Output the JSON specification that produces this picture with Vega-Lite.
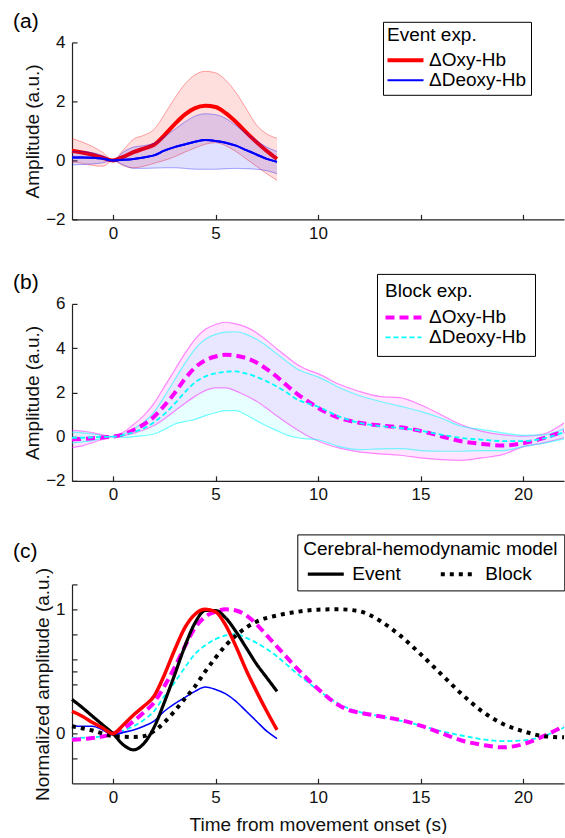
{
  "$schema": "https://vega.github.io/schema/vega-lite/v6.json",
  "padding": {"left": 13, "top": 10.4, "right": 0, "bottom": 0},
  "spacing": 30.5,
  "resolve": {"scale": {"color": "independent", "strokeWidth": "independent", "strokeDash": "independent"}, "legend": {"color": "independent", "strokeWidth": "independent", "strokeDash": "independent"}},
  "config": {
    "font": "Liberation Sans",
    "view": {"stroke": null},
    "axis": {"grid": false, "domainColor": "#222", "domainWidth": 1.2, "tickColor": "#222", "tickWidth": 1.2, "tickSize": -5, "labelFontSize": 17, "labelColor": "#111", "labelFont": "Liberation Sans", "titleFont": "Liberation Sans", "titleFontSize": 19, "titleFontWeight": "normal", "titleColor": "#111", "labelFlush": false},
    "axisX": {"labelPadding": 11, "titlePadding": 10},
    "axisY": {"labelPadding": 12, "titlePadding": 3},
    "legend": {"strokeColor": "#000", "fillColor": "#fff", "titleFontWeight": "normal", "titleFontSize": 19, "labelFontSize": 19, "titleColor": "#000", "labelColor": "#000", "titleFont": "Liberation Sans", "labelFont": "Liberation Sans", "titleLimit": 400, "labelLimit": 300, "symbolSize": 144, "symbolStrokeWidth": 2},
    "title": {"font": "Liberation Sans", "fontSize": 21, "fontWeight": "normal", "anchor": "start", "frame": "group", "color": "#000"}
  },
  "datasets": {
    "ev": [
      {"t":-2,"s":"ΔOxy-Hb","m":0.33,"lo":-0.05,"hi":0.75},{"t":-1.5,"s":"ΔOxy-Hb","m":0.27,"lo":-0.1,"hi":0.62},{"t":-1,"s":"ΔOxy-Hb","m":0.19,"lo":-0.17,"hi":0.47},{"t":-0.5,"s":"ΔOxy-Hb","m":0.09,"lo":-0.2,"hi":0.27},{"t":0,"s":"ΔOxy-Hb","m":0,"lo":0,"hi":0},{"t":0.5,"s":"ΔOxy-Hb","m":0.12,"lo":-0.18,"hi":0.35},{"t":1,"s":"ΔOxy-Hb","m":0.28,"lo":-0.25,"hi":0.72},{"t":1.5,"s":"ΔOxy-Hb","m":0.4,"lo":-0.2,"hi":0.85},{"t":2,"s":"ΔOxy-Hb","m":0.53,"lo":-0.1,"hi":1.05},{"t":2.5,"s":"ΔOxy-Hb","m":0.85,"lo":0,"hi":1.55},{"t":3,"s":"ΔOxy-Hb","m":1.22,"lo":0.12,"hi":2.1},{"t":3.5,"s":"ΔOxy-Hb","m":1.55,"lo":0.28,"hi":2.58},{"t":4,"s":"ΔOxy-Hb","m":1.77,"lo":0.42,"hi":2.9},{"t":4.5,"s":"ΔOxy-Hb","m":1.85,"lo":0.55,"hi":3.02},{"t":5,"s":"ΔOxy-Hb","m":1.81,"lo":0.6,"hi":2.97},{"t":5.5,"s":"ΔOxy-Hb","m":1.6,"lo":0.5,"hi":2.72},{"t":6,"s":"ΔOxy-Hb","m":1.3,"lo":0.3,"hi":2.3},{"t":6.5,"s":"ΔOxy-Hb","m":0.95,"lo":0.05,"hi":1.75},{"t":7,"s":"ΔOxy-Hb","m":0.62,"lo":-0.2,"hi":1.2},{"t":7.5,"s":"ΔOxy-Hb","m":0.32,"lo":-0.45,"hi":0.9},{"t":8,"s":"ΔOxy-Hb","m":0.05,"lo":-0.68,"hi":0.75},
      {"t":-2,"s":"ΔDeoxy-Hb","m":0.1,"lo":-0.15,"hi":0.3},{"t":-1.5,"s":"ΔDeoxy-Hb","m":0.1,"lo":-0.14,"hi":0.3},{"t":-1,"s":"ΔDeoxy-Hb","m":0.09,"lo":-0.12,"hi":0.26},{"t":-0.5,"s":"ΔDeoxy-Hb","m":0.06,"lo":-0.08,"hi":0.16},{"t":0,"s":"ΔDeoxy-Hb","m":0,"lo":0,"hi":0},{"t":0.5,"s":"ΔDeoxy-Hb","m":0.02,"lo":-0.15,"hi":0.28},{"t":1,"s":"ΔDeoxy-Hb","m":0.05,"lo":-0.27,"hi":0.45},{"t":1.5,"s":"ΔDeoxy-Hb","m":0.1,"lo":-0.27,"hi":0.5},{"t":2,"s":"ΔDeoxy-Hb","m":0.17,"lo":-0.26,"hi":0.58},{"t":2.5,"s":"ΔDeoxy-Hb","m":0.33,"lo":-0.25,"hi":0.8},{"t":3,"s":"ΔDeoxy-Hb","m":0.45,"lo":-0.25,"hi":1.05},{"t":3.5,"s":"ΔDeoxy-Hb","m":0.54,"lo":-0.27,"hi":1.3},{"t":4,"s":"ΔDeoxy-Hb","m":0.63,"lo":-0.3,"hi":1.5},{"t":4.5,"s":"ΔDeoxy-Hb","m":0.69,"lo":-0.3,"hi":1.58},{"t":5,"s":"ΔDeoxy-Hb","m":0.66,"lo":-0.3,"hi":1.55},{"t":5.5,"s":"ΔDeoxy-Hb","m":0.6,"lo":-0.28,"hi":1.42},{"t":6,"s":"ΔDeoxy-Hb","m":0.5,"lo":-0.27,"hi":1.18},{"t":6.5,"s":"ΔDeoxy-Hb","m":0.35,"lo":-0.28,"hi":0.92},{"t":7,"s":"ΔDeoxy-Hb","m":0.2,"lo":-0.3,"hi":0.67},{"t":7.5,"s":"ΔDeoxy-Hb","m":0.05,"lo":-0.35,"hi":0.45},{"t":8,"s":"ΔDeoxy-Hb","m":-0.05,"lo":-0.45,"hi":0.3}
    ],
    "bl": [
      {"t":-2,"s":"ΔOxy-Hb","m":-0.12,"lo":-0.5,"hi":0.28},{"t":-1.5,"s":"ΔOxy-Hb","m":-0.1,"lo":-0.42,"hi":0.25},{"t":-1,"s":"ΔOxy-Hb","m":-0.07,"lo":-0.27,"hi":0.18},{"t":-0.5,"s":"ΔOxy-Hb","m":-0.04,"lo":-0.12,"hi":0.08},{"t":0,"s":"ΔOxy-Hb","m":0,"lo":0,"hi":0},{"t":0.5,"s":"ΔOxy-Hb","m":0.1,"lo":0.05,"hi":0.2},{"t":1,"s":"ΔOxy-Hb","m":0.3,"lo":0.15,"hi":0.55},{"t":1.5,"s":"ΔOxy-Hb","m":0.55,"lo":0.3,"hi":0.95},{"t":2,"s":"ΔOxy-Hb","m":0.9,"lo":0.5,"hi":1.5},{"t":2.5,"s":"ΔOxy-Hb","m":1.4,"lo":0.8,"hi":2.25},{"t":3,"s":"ΔOxy-Hb","m":1.96,"lo":1.15,"hi":3.0},{"t":3.5,"s":"ΔOxy-Hb","m":2.6,"lo":1.5,"hi":3.75},{"t":4,"s":"ΔOxy-Hb","m":3.12,"lo":1.82,"hi":4.4},{"t":4.5,"s":"ΔOxy-Hb","m":3.45,"lo":2.08,"hi":4.85},{"t":5,"s":"ΔOxy-Hb","m":3.62,"lo":2.2,"hi":5.07},{"t":5.5,"s":"ΔOxy-Hb","m":3.7,"lo":2.2,"hi":5.17},{"t":6,"s":"ΔOxy-Hb","m":3.66,"lo":2.06,"hi":5.1},{"t":6.5,"s":"ΔOxy-Hb","m":3.55,"lo":1.85,"hi":4.95},{"t":7,"s":"ΔOxy-Hb","m":3.35,"lo":1.6,"hi":4.7},{"t":7.5,"s":"ΔOxy-Hb","m":3.05,"lo":1.28,"hi":4.35},{"t":8,"s":"ΔOxy-Hb","m":2.7,"lo":0.93,"hi":3.96},{"t":8.5,"s":"ΔOxy-Hb","m":2.3,"lo":0.6,"hi":3.6},{"t":9,"s":"ΔOxy-Hb","m":1.92,"lo":0.3,"hi":3.25},{"t":9.5,"s":"ΔOxy-Hb","m":1.6,"lo":0.03,"hi":3.02},{"t":10,"s":"ΔOxy-Hb","m":1.3,"lo":-0.2,"hi":2.85},{"t":11,"s":"ΔOxy-Hb","m":0.86,"lo":-0.51,"hi":2.38},{"t":12,"s":"ΔOxy-Hb","m":0.63,"lo":-0.69,"hi":2.05},{"t":13,"s":"ΔOxy-Hb","m":0.51,"lo":-0.78,"hi":1.82},{"t":14,"s":"ΔOxy-Hb","m":0.42,"lo":-0.84,"hi":1.76},{"t":15,"s":"ΔOxy-Hb","m":0.26,"lo":-0.96,"hi":1.44},{"t":16,"s":"ΔOxy-Hb","m":0.02,"lo":-1.04,"hi":0.99},{"t":17,"s":"ΔOxy-Hb","m":-0.21,"lo":-1.07,"hi":0.54},{"t":18,"s":"ΔOxy-Hb","m":-0.33,"lo":-0.96,"hi":0.24},{"t":19,"s":"ΔOxy-Hb","m":-0.4,"lo":-0.81,"hi":0.09},{"t":20,"s":"ΔOxy-Hb","m":-0.3,"lo":-0.46,"hi":0.02},{"t":21,"s":"ΔOxy-Hb","m":-0.07,"lo":-0.28,"hi":0.12},{"t":22,"s":"ΔOxy-Hb","m":0.24,"lo":-0.05,"hi":0.62},
      {"t":-2,"s":"ΔDeoxy-Hb","m":-0.05,"lo":-0.28,"hi":0.2},{"t":-1.5,"s":"ΔDeoxy-Hb","m":-0.05,"lo":-0.24,"hi":0.17},{"t":-1,"s":"ΔDeoxy-Hb","m":-0.03,"lo":-0.18,"hi":0.12},{"t":-0.5,"s":"ΔDeoxy-Hb","m":-0.01,"lo":-0.08,"hi":0.05},{"t":0,"s":"ΔDeoxy-Hb","m":0,"lo":0,"hi":0},{"t":0.5,"s":"ΔDeoxy-Hb","m":0.07,"lo":-0.03,"hi":0.12},{"t":1,"s":"ΔDeoxy-Hb","m":0.2,"lo":0,"hi":0.35},{"t":1.5,"s":"ΔDeoxy-Hb","m":0.38,"lo":0.05,"hi":0.65},{"t":2,"s":"ΔDeoxy-Hb","m":0.65,"lo":0.12,"hi":1.1},{"t":2.5,"s":"ΔDeoxy-Hb","m":1.02,"lo":0.32,"hi":1.8},{"t":3,"s":"ΔDeoxy-Hb","m":1.48,"lo":0.56,"hi":2.55},{"t":3.5,"s":"ΔDeoxy-Hb","m":2.0,"lo":0.68,"hi":3.3},{"t":4,"s":"ΔDeoxy-Hb","m":2.45,"lo":0.78,"hi":3.96},{"t":4.5,"s":"ΔDeoxy-Hb","m":2.72,"lo":0.95,"hi":4.4},{"t":5,"s":"ΔDeoxy-Hb","m":2.86,"lo":1.08,"hi":4.62},{"t":5.5,"s":"ΔDeoxy-Hb","m":2.93,"lo":1.18,"hi":4.72},{"t":6,"s":"ΔDeoxy-Hb","m":2.95,"lo":1.18,"hi":4.74},{"t":6.5,"s":"ΔDeoxy-Hb","m":2.85,"lo":0.98,"hi":4.62},{"t":7,"s":"ΔDeoxy-Hb","m":2.7,"lo":0.72,"hi":4.4},{"t":7.5,"s":"ΔDeoxy-Hb","m":2.5,"lo":0.48,"hi":4.1},{"t":8,"s":"ΔDeoxy-Hb","m":2.26,"lo":0.27,"hi":3.74},{"t":8.5,"s":"ΔDeoxy-Hb","m":1.98,"lo":0.07,"hi":3.38},{"t":9,"s":"ΔDeoxy-Hb","m":1.67,"lo":-0.05,"hi":3.05},{"t":9.5,"s":"ΔDeoxy-Hb","m":1.5,"lo":-0.1,"hi":2.86},{"t":10,"s":"ΔDeoxy-Hb","m":1.35,"lo":-0.14,"hi":2.7},{"t":11,"s":"ΔDeoxy-Hb","m":0.92,"lo":-0.44,"hi":2.23},{"t":12,"s":"ΔDeoxy-Hb","m":0.63,"lo":-0.59,"hi":1.86},{"t":13,"s":"ΔDeoxy-Hb","m":0.48,"lo":-0.55,"hi":1.6},{"t":14,"s":"ΔDeoxy-Hb","m":0.39,"lo":-0.54,"hi":1.38},{"t":15,"s":"ΔDeoxy-Hb","m":0.27,"lo":-0.63,"hi":1.14},{"t":16,"s":"ΔDeoxy-Hb","m":0.09,"lo":-0.66,"hi":0.84},{"t":17,"s":"ΔDeoxy-Hb","m":-0.06,"lo":-0.66,"hi":0.47},{"t":18,"s":"ΔDeoxy-Hb","m":-0.14,"lo":-0.63,"hi":0.32},{"t":19,"s":"ΔDeoxy-Hb","m":-0.2,"lo":-0.63,"hi":0.17},{"t":20,"s":"ΔDeoxy-Hb","m":-0.2,"lo":-0.45,"hi":0.06},{"t":21,"s":"ΔDeoxy-Hb","m":-0.08,"lo":-0.3,"hi":0.08},{"t":22,"s":"ΔDeoxy-Hb","m":0.2,"lo":-0.1,"hi":0.35}
    ],
    "nm": [
      {"t":-2,"k":"Event","v":0.275},{"t":-1.5,"k":"Event","v":0.21},{"t":-1,"k":"Event","v":0.14},{"t":-0.5,"k":"Event","v":0.07},{"t":0,"k":"Event","v":0},{"t":0.5,"k":"Event","v":-0.09},{"t":1,"k":"Event","v":-0.13},{"t":1.5,"k":"Event","v":-0.08},{"t":2,"k":"Event","v":0.05},{"t":2.5,"k":"Event","v":0.25},{"t":3,"k":"Event","v":0.47},{"t":3.5,"k":"Event","v":0.7},{"t":4,"k":"Event","v":0.89},{"t":4.5,"k":"Event","v":0.99},{"t":5,"k":"Event","v":0.99},{"t":5.5,"k":"Event","v":0.93},{"t":6,"k":"Event","v":0.82},{"t":6.5,"k":"Event","v":0.69},{"t":7,"k":"Event","v":0.56},{"t":7.5,"k":"Event","v":0.45},{"t":8,"k":"Event","v":0.34},
      {"t":-2,"k":"Block","v":0.06},{"t":-1,"k":"Block","v":0.025},{"t":0,"k":"Block","v":-0.02},{"t":0.5,"k":"Block","v":-0.025},{"t":1,"k":"Block","v":-0.027},{"t":1.5,"k":"Block","v":-0.02},{"t":2,"k":"Block","v":0.02},{"t":2.5,"k":"Block","v":0.09},{"t":3,"k":"Block","v":0.18},{"t":3.5,"k":"Block","v":0.28},{"t":4,"k":"Block","v":0.38},{"t":4.5,"k":"Block","v":0.5},{"t":5,"k":"Block","v":0.61},{"t":5.5,"k":"Block","v":0.71},{"t":6,"k":"Block","v":0.79},{"t":7,"k":"Block","v":0.9},{"t":8,"k":"Block","v":0.95},{"t":9,"k":"Block","v":0.98},{"t":10,"k":"Block","v":0.997},{"t":11,"k":"Block","v":1.0},{"t":12,"k":"Block","v":0.985},{"t":12.5,"k":"Block","v":0.955},{"t":13,"k":"Block","v":0.91},{"t":14,"k":"Block","v":0.79},{"t":15,"k":"Block","v":0.64},{"t":16,"k":"Block","v":0.48},{"t":17,"k":"Block","v":0.32},{"t":18,"k":"Block","v":0.18},{"t":19,"k":"Block","v":0.08},{"t":20,"k":"Block","v":0.02},{"t":21,"k":"Block","v":-0.02},{"t":22,"k":"Block","v":-0.03},
      {"t":-2,"k":"oe","v":0.18},{"t":-1.5,"k":"oe","v":0.14},{"t":-1,"k":"oe","v":0.09},{"t":-0.5,"k":"oe","v":0.045},{"t":0,"k":"oe","v":0},{"t":0.5,"k":"oe","v":0.07},{"t":1,"k":"oe","v":0.15},{"t":1.5,"k":"oe","v":0.22},{"t":2,"k":"oe","v":0.3},{"t":2.5,"k":"oe","v":0.47},{"t":3,"k":"oe","v":0.67},{"t":3.5,"k":"oe","v":0.85},{"t":4,"k":"oe","v":0.96},{"t":4.5,"k":"oe","v":1.0},{"t":5,"k":"oe","v":0.98},{"t":5.5,"k":"oe","v":0.87},{"t":6,"k":"oe","v":0.7},{"t":6.5,"k":"oe","v":0.51},{"t":7,"k":"oe","v":0.34},{"t":7.5,"k":"oe","v":0.18},{"t":8,"k":"oe","v":0.03},
      {"t":-2,"k":"de","v":0.06},{"t":-1.5,"k":"de","v":0.06},{"t":-1,"k":"de","v":0.06},{"t":-0.5,"k":"de","v":0.03},{"t":0,"k":"de","v":-0.01},{"t":0.5,"k":"de","v":0.01},{"t":1,"k":"de","v":0.03},{"t":1.5,"k":"de","v":0.06},{"t":2,"k":"de","v":0.1},{"t":2.5,"k":"de","v":0.18},{"t":3,"k":"de","v":0.24},{"t":3.5,"k":"de","v":0.29},{"t":4,"k":"de","v":0.34},{"t":4.5,"k":"de","v":0.375},{"t":5,"k":"de","v":0.355},{"t":5.5,"k":"de","v":0.32},{"t":6,"k":"de","v":0.26},{"t":6.5,"k":"de","v":0.18},{"t":7,"k":"de","v":0.1},{"t":7.5,"k":"de","v":0.02},{"t":8,"k":"de","v":-0.04},
      {"t":-2,"k":"ob","v":-0.05},{"t":-1,"k":"ob","v":-0.035},{"t":0,"k":"ob","v":0},{"t":0.5,"k":"ob","v":0.04},{"t":1,"k":"ob","v":0.1},{"t":1.5,"k":"ob","v":0.17},{"t":2,"k":"ob","v":0.25},{"t":2.5,"k":"ob","v":0.38},{"t":3,"k":"ob","v":0.53},{"t":3.5,"k":"ob","v":0.7},{"t":4,"k":"ob","v":0.85},{"t":4.5,"k":"ob","v":0.94},{"t":5,"k":"ob","v":0.98},{"t":5.5,"k":"ob","v":1.0},{"t":6,"k":"ob","v":0.99},{"t":6.5,"k":"ob","v":0.95},{"t":7,"k":"ob","v":0.88},{"t":7.5,"k":"ob","v":0.79},{"t":8,"k":"ob","v":0.7},{"t":9,"k":"ob","v":0.52},{"t":10,"k":"ob","v":0.36},{"t":11,"k":"ob","v":0.23},{"t":11.5,"k":"ob","v":0.19},{"t":12,"k":"ob","v":0.17},{"t":13,"k":"ob","v":0.14},{"t":14,"k":"ob","v":0.11},{"t":15,"k":"ob","v":0.065},{"t":16,"k":"ob","v":0.005},{"t":17,"k":"ob","v":-0.055},{"t":18,"k":"ob","v":-0.09},{"t":19,"k":"ob","v":-0.11},{"t":20,"k":"ob","v":-0.085},{"t":21,"k":"ob","v":-0.02},{"t":22,"k":"ob","v":0.06},
      {"t":-2,"k":"db","v":-0.035},{"t":-1,"k":"db","v":-0.03},{"t":0,"k":"db","v":0},{"t":0.5,"k":"db","v":0.025},{"t":1,"k":"db","v":0.06},{"t":1.5,"k":"db","v":0.11},{"t":2,"k":"db","v":0.18},{"t":2.5,"k":"db","v":0.3},{"t":3,"k":"db","v":0.41},{"t":3.5,"k":"db","v":0.53},{"t":4,"k":"db","v":0.64},{"t":4.5,"k":"db","v":0.71},{"t":5,"k":"db","v":0.76},{"t":5.5,"k":"db","v":0.79},{"t":6,"k":"db","v":0.8},{"t":6.5,"k":"db","v":0.77},{"t":7,"k":"db","v":0.73},{"t":7.5,"k":"db","v":0.68},{"t":8,"k":"db","v":0.62},{"t":9,"k":"db","v":0.48},{"t":10,"k":"db","v":0.35},{"t":11,"k":"db","v":0.24},{"t":12,"k":"db","v":0.175},{"t":13,"k":"db","v":0.14},{"t":14,"k":"db","v":0.105},{"t":15,"k":"db","v":0.065},{"t":16,"k":"db","v":0.02},{"t":17,"k":"db","v":-0.015},{"t":18,"k":"db","v":-0.045},{"t":19,"k":"db","v":-0.06},{"t":20,"k":"db","v":-0.055},{"t":21,"k":"db","v":-0.02},{"t":22,"k":"db","v":0.05}
    ]
  },
  "vconcat": [
    {
      "width": 492, "height": 177,
      "title": {"text": "(a)", "dx": -59, "offset": -10.7},
      "data": {"name": "ev"},
      "encoding": {"x": {"field": "t", "type": "quantitative", "scale": {"domain": [-2, 22], "nice": false, "zero": false}, "axis": {"values": [0, 5, 10, 15, 20], "labelExpr": "datum.value > 10 ? '' : datum.label", "title": null, "labelOverlap": false}}},
      "layer": [
        {"transform": [{"filter": "datum.s === 'ΔOxy-Hb'"}], "mark": {"type": "area", "color": "#ff0000", "opacity": 0.13, "interpolate": "monotone"},
         "encoding": {"y": {"field": "lo", "type": "quantitative", "title": "Amplitude (a.u.)", "scale": {"domain": [-2, 4], "nice": false, "zero": false}, "axis": {"values": [-2, -1, 0, 1, 2, 3, 4], "labelOverlap": false, "labelExpr": "datum.value % 2 == 0 ? datum.label : ''"}}, "y2": {"field": "hi"}}},
        {"transform": [{"filter": "datum.s === 'ΔOxy-Hb'"}], "mark": {"type": "line", "color": "#ff0000", "opacity": 0.35, "strokeWidth": 1, "interpolate": "monotone"}, "encoding": {"y": {"field": "hi", "type": "quantitative", "title": "Amplitude (a.u.)"}}},
        {"transform": [{"filter": "datum.s === 'ΔOxy-Hb'"}], "mark": {"type": "line", "color": "#ff0000", "opacity": 0.35, "strokeWidth": 1, "interpolate": "monotone"}, "encoding": {"y": {"field": "lo", "type": "quantitative", "title": "Amplitude (a.u.)"}}},
        {"mark": {"type": "line", "interpolate": "monotone"},
         "encoding": {
           "y": {"field": "m", "type": "quantitative", "title": "Amplitude (a.u.)"},
           "color": {"field": "s", "type": "nominal", "scale": {"domain": ["ΔOxy-Hb", "ΔDeoxy-Hb"], "range": ["#ff0000", "#0000ff"]},
             "legend": {"title": "Event exp.", "orient": "none", "legendX": 311, "legendY": -20.6, "padding": 4, "titlePadding": 6, "rowPadding": -4, "symbolOffset": 9, "labelOffset": 14, "symbolType": "M-3,0L3,0", "symbolSize": 144}},
           "strokeWidth": {"field": "s", "type": "nominal", "scale": {"type": "point", "padding": 0, "domain": ["ΔOxy-Hb", "ΔDeoxy-Hb"], "range": [4, 2]},
             "legend": {"title": "Event exp.", "orient": "none", "legendX": 311, "legendY": -20.6, "padding": 4, "titlePadding": 6, "rowPadding": -4, "symbolOffset": 9, "labelOffset": 14, "symbolType": "M-3,0L3,0", "symbolSize": 144}}
         }},
        {"transform": [{"filter": "datum.s === 'ΔDeoxy-Hb'"}], "mark": {"type": "area", "color": "#0000ff", "opacity": 0.12, "interpolate": "monotone"}, "encoding": {"y": {"field": "lo", "type": "quantitative", "title": "Amplitude (a.u.)"}, "y2": {"field": "hi"}}},
        {"transform": [{"filter": "datum.s === 'ΔDeoxy-Hb'"}], "mark": {"type": "line", "color": "#0000ff", "opacity": 0.35, "strokeWidth": 1, "interpolate": "monotone"}, "encoding": {"y": {"field": "hi", "type": "quantitative", "title": "Amplitude (a.u.)"}}},
        {"transform": [{"filter": "datum.s === 'ΔDeoxy-Hb'"}], "mark": {"type": "line", "color": "#0000ff", "opacity": 0.35, "strokeWidth": 1, "interpolate": "monotone"}, "encoding": {"y": {"field": "lo", "type": "quantitative", "title": "Amplitude (a.u.)"}}},
        {"transform": [{"filter": "datum.s === 'ΔDeoxy-Hb'"}], "mark": {"type": "line", "color": "#0000ff", "strokeWidth": 2, "interpolate": "monotone"}, "encoding": {"y": {"field": "m", "type": "quantitative", "title": "Amplitude (a.u.)"}}}
      ]
    },
    {
      "width": 492, "height": 177,
      "title": {"text": "(b)", "dx": -59, "offset": -20.1},
      "data": {"name": "bl"},
      "encoding": {"x": {"field": "t", "type": "quantitative", "scale": {"domain": [-2, 22], "nice": false, "zero": false}, "axis": {"values": [0, 5, 10, 15, 20], "title": null, "labelOverlap": false}}},
      "layer": [
        {"transform": [{"filter": "datum.s === 'ΔOxy-Hb'"}], "mark": {"type": "area", "color": "#ff00ff", "opacity": 0.1, "interpolate": "monotone"},
         "encoding": {"y": {"field": "lo", "type": "quantitative", "title": "Amplitude (a.u.)", "scale": {"domain": [-2, 6], "nice": false, "zero": false}, "axis": {"values": [-2, 0, 2, 4, 6], "labelOverlap": false}}, "y2": {"field": "hi"}}},
        {"transform": [{"filter": "datum.s === 'ΔDeoxy-Hb'"}], "mark": {"type": "area", "color": "#00ffff", "opacity": 0.09, "interpolate": "monotone"}, "encoding": {"y": {"field": "lo", "type": "quantitative", "title": "Amplitude (a.u.)"}, "y2": {"field": "hi"}}},
        {"transform": [{"filter": "datum.s === 'ΔOxy-Hb'"}], "mark": {"type": "line", "color": "#ff00ff", "opacity": 0.45, "strokeWidth": 1.2, "interpolate": "monotone"}, "encoding": {"y": {"field": "hi", "type": "quantitative", "title": "Amplitude (a.u.)"}}},
        {"transform": [{"filter": "datum.s === 'ΔOxy-Hb'"}], "mark": {"type": "line", "color": "#ff00ff", "opacity": 0.45, "strokeWidth": 1.2, "interpolate": "monotone"}, "encoding": {"y": {"field": "lo", "type": "quantitative", "title": "Amplitude (a.u.)"}}},
        {"transform": [{"filter": "datum.s === 'ΔDeoxy-Hb'"}], "mark": {"type": "line", "color": "#00ffff", "opacity": 0.55, "strokeWidth": 1.2, "interpolate": "monotone"}, "encoding": {"y": {"field": "hi", "type": "quantitative", "title": "Amplitude (a.u.)"}}},
        {"transform": [{"filter": "datum.s === 'ΔDeoxy-Hb'"}], "mark": {"type": "line", "color": "#00ffff", "opacity": 0.55, "strokeWidth": 1.2, "interpolate": "monotone"}, "encoding": {"y": {"field": "lo", "type": "quantitative", "title": "Amplitude (a.u.)"}}},
        {"mark": {"type": "line", "interpolate": "monotone"},
         "encoding": {
           "y": {"field": "m", "type": "quantitative", "title": "Amplitude (a.u.)"},
           "color": {"field": "s", "type": "nominal", "scale": {"domain": ["ΔOxy-Hb", "ΔDeoxy-Hb"], "range": ["#ff00ff", "#00ffff"]},
             "legend": {"title": "Block exp.", "orient": "none", "legendX": 305, "legendY": -30, "padding": 8, "titlePadding": 7, "rowPadding": 0, "symbolOffset": 9, "labelOffset": 16, "symbolType": "M-3,0L3,0", "symbolSize": 144}},
           "strokeWidth": {"field": "s", "type": "nominal", "scale": {"type": "point", "padding": 0, "domain": ["ΔOxy-Hb", "ΔDeoxy-Hb"], "range": [4, 1.8]},
             "legend": {"title": "Block exp.", "orient": "none", "legendX": 305, "legendY": -30, "padding": 8, "titlePadding": 7, "rowPadding": 0, "symbolOffset": 9, "labelOffset": 16, "symbolType": "M-3,0L3,0", "symbolSize": 144}},
           "strokeDash": {"field": "s", "type": "nominal", "scale": {"domain": ["ΔOxy-Hb", "ΔDeoxy-Hb"], "range": [[9, 5], [5, 3]]},
             "legend": {"title": "Block exp.", "orient": "none", "legendX": 305, "legendY": -30, "padding": 8, "titlePadding": 7, "rowPadding": 0, "symbolOffset": 9, "labelOffset": 16, "symbolType": "M-3,0L3,0", "symbolSize": 144}}
         }}
      ]
    },
    {
      "width": 492, "height": 199,
      "title": {"text": "(c)", "dx": -59, "offset": -28},
      "data": {"name": "nm"},
      "encoding": {"x": {"field": "t", "type": "quantitative", "scale": {"domain": [-2, 22], "nice": false, "zero": false}, "axis": {"values": [0, 5, 10, 15, 20], "title": "Time from movement onset (s)", "labelOverlap": false}}},
      "layer": [
        {"transform": [{"filter": "datum.k === 'db'"}], "mark": {"type": "line", "color": "#00ffff", "strokeWidth": 1.8, "strokeDash": [5, 3], "interpolate": "monotone"},
         "encoding": {"y": {"field": "v", "type": "quantitative", "title": "Normalized amplitude (a.u.)", "scale": {"domain": [-0.4, 1.2], "nice": false, "zero": false}, "axis": {"values": [-0.2, 0, 0.4, 0.5, 0.6, 0.8, 1, 1.2], "labelOverlap": "greedy", "labelExpr": "abs(datum.value) < 0.01 ? '0' : abs(datum.value - 1) < 0.01 ? '1' : ''"}}}},
        {"transform": [{"filter": "datum.k === 'ob'"}], "mark": {"type": "line", "color": "#ff00ff", "strokeWidth": 4, "strokeDash": [9, 5], "interpolate": "monotone"}, "encoding": {"y": {"field": "v", "type": "quantitative", "title": "Normalized amplitude (a.u.)", "axis": {"values": [-0.2, 0, 0.4, 0.5, 0.6, 0.8, 1, 1.2], "labelOverlap": "greedy", "labelExpr": "abs(datum.value) < 0.01 ? '0' : abs(datum.value - 1) < 0.01 ? '1' : ''"}}}},
        {"transform": [{"filter": "datum.k === 'de'"}], "mark": {"type": "line", "color": "#0000ff", "strokeWidth": 1.6, "interpolate": "monotone"}, "encoding": {"y": {"field": "v", "type": "quantitative", "title": "Normalized amplitude (a.u.)", "axis": {"values": [-0.2, 0, 0.4, 0.5, 0.6, 0.8, 1, 1.2], "labelOverlap": "greedy", "labelExpr": "abs(datum.value) < 0.01 ? '0' : abs(datum.value - 1) < 0.01 ? '1' : ''"}}}},
        {"transform": [{"filter": "datum.k === 'Event' || datum.k === 'Block'"}], "mark": {"type": "line", "color": "#000000", "interpolate": "monotone"},
         "encoding": {
           "y": {"field": "v", "type": "quantitative", "title": "Normalized amplitude (a.u.)", "axis": {"values": [-0.2, 0, 0.4, 0.5, 0.6, 0.8, 1, 1.2], "labelOverlap": "greedy", "labelExpr": "abs(datum.value) < 0.01 ? '0' : abs(datum.value - 1) < 0.01 ? '1' : ''"}},
           "strokeDash": {"field": "k", "type": "nominal", "scale": {"domain": ["Event", "Block"], "range": [[1, 0], [4, 5]]},
             "legend": {"title": "Cerebral-hemodynamic model", "orient": "none", "direction": "horizontal", "columns": 2, "legendX": 225.3, "legendY": -50, "padding": 6, "titlePadding": 5, "columnPadding": 31, "symbolOffset": 13, "labelOffset": 17, "symbolType": "M-3,0L3,0", "symbolSize": 144}},
           "strokeWidth": {"field": "k", "type": "nominal", "scale": {"type": "point", "padding": 0, "domain": ["Event", "Block"], "range": [3.2, 4]},
             "legend": {"title": "Cerebral-hemodynamic model", "orient": "none", "direction": "horizontal", "columns": 2, "legendX": 225.3, "legendY": -50, "padding": 6, "titlePadding": 5, "columnPadding": 31, "symbolOffset": 13, "labelOffset": 17, "symbolType": "M-3,0L3,0", "symbolSize": 144}}
         }},
        {"transform": [{"filter": "datum.k === 'oe'"}], "mark": {"type": "line", "color": "#ff0000", "strokeWidth": 3.5, "interpolate": "monotone"}, "encoding": {"y": {"field": "v", "type": "quantitative", "title": "Normalized amplitude (a.u.)", "axis": {"values": [-0.2, 0, 0.4, 0.5, 0.6, 0.8, 1, 1.2], "labelOverlap": "greedy", "labelExpr": "abs(datum.value) < 0.01 ? '0' : abs(datum.value - 1) < 0.01 ? '1' : ''"}}}}
      ]
    }
  ]
}
